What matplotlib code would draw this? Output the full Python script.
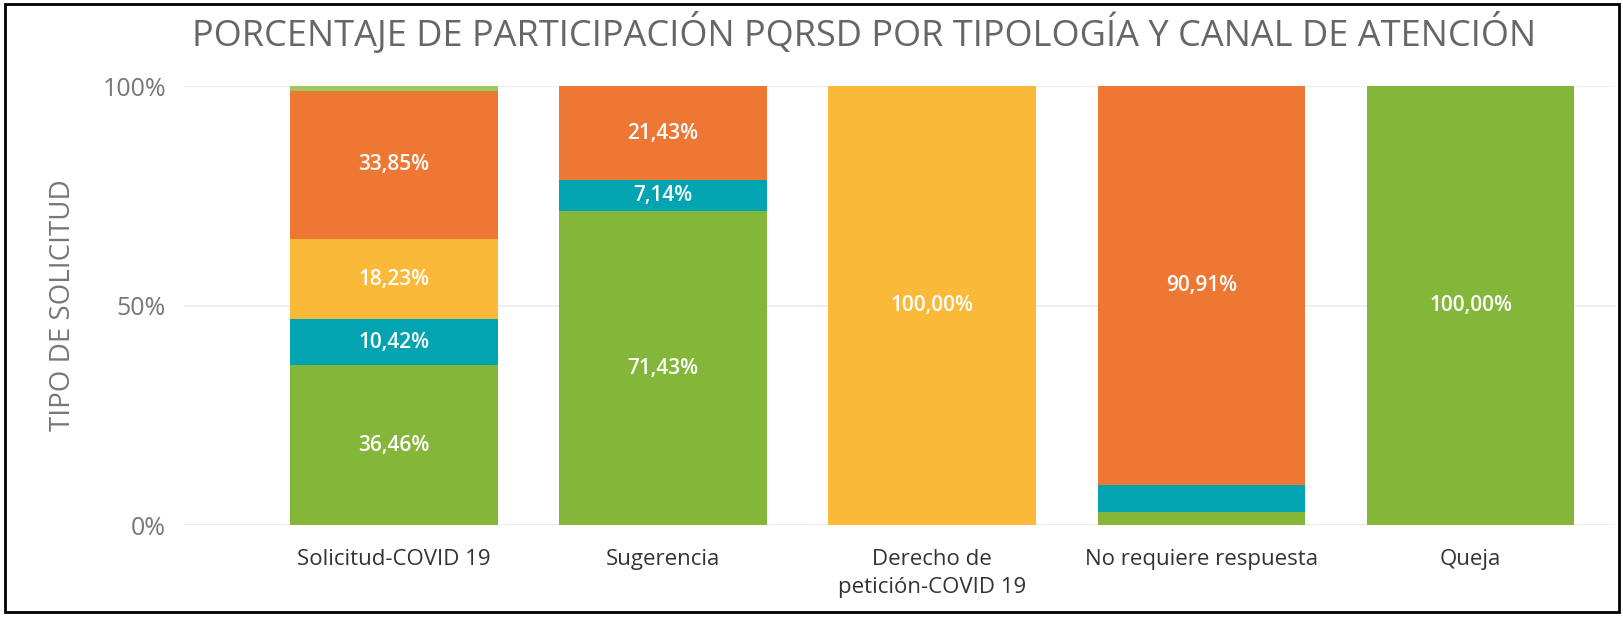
import numpy as np
import matplotlib
matplotlib.use("Agg")
import matplotlib.pyplot as plt
from matplotlib.patches import Rectangle

plt.rcParams['font.family'] = ['Open Sans', 'DejaVu Sans']

# data
categorias = ["Solicitud-COVID 19", "Sugerencia", "Derecho de\npetición-COVID 19",
              "No requiere respuesta", "Queja"]
canal_verde = [36.46, 71.43, 0.0, 3.03, 100.0]
canal_turquesa = [10.42, 7.14, 0.0, 6.06, 0.0]
canal_amarillo = [18.23, 0.0, 100.0, 0.0, 0.0]
canal_naranja = [33.85, 21.43, 0.0, 90.91, 0.0]
canal_otro = [1.04, 0.0, 0.0, 0.0, 0.0]

series = [
    (canal_verde, "#84B63A"),
    (canal_turquesa, "#01A4B0"),
    (canal_amarillo, "#FBB93A"),
    (canal_naranja, "#EF7734"),
    (canal_otro, "#9CC860"),
]

fig = plt.figure(figsize=(16.24, 6.17), dpi=100)
ax = fig.add_axes([0.1133, 0.149, 0.8812, 0.7116])

x = np.arange(len(categorias))
bottom = np.zeros(len(categorias))
for vals, color in series:
    vals = np.array(vals)
    ax.bar(x, vals, width=0.771, bottom=bottom, color=color, zorder=2)
    for xi, v, b in zip(x, vals, bottom):
        if v >= 7:
            ax.text(xi, b + v / 2, ("%.2f%%" % v).replace(".", ","),
                    ha="center", va="center", color="white", fontsize=15,
                    fontweight="semibold", zorder=3)
    bottom += vals

ax.set_xlim(-0.78, 4.537)
ax.set_ylim(0, 100)
ax.set_yticks([0, 50, 100])
ax.set_yticklabels(["0%", "50%", "100%"], color="#777777", fontsize=18)
ax.set_xticks(x)
ax.set_xticklabels(categorias, color="#333333", fontsize=16, linespacing=1.45)
ax.tick_params(axis="both", length=0)
ax.tick_params(axis="y", pad=13)
ax.tick_params(axis="x", pad=17)
ax.yaxis.grid(True, color="#EBEBEB", linewidth=1.2, zorder=0)
ax.set_axisbelow(True)
for s in ax.spines.values():
    s.set_visible(False)

ax.set_ylabel("TIPO DE SOLICITUD", color="#777777", fontsize=20, labelpad=18)

fig.text(0.532, 0.945, "PORCENTAJE DE PARTICIPACIÓN PQRSD POR TIPOLOGÍA Y CANAL DE ATENCIÓN",
         ha="center", va="center", color="#666666", fontsize=26)

fig.patches.append(Rectangle((0.003, 0.008), 0.994, 0.985, transform=fig.transFigure,
                             fill=False, edgecolor="black", linewidth=2))

fig.savefig("out.png", dpi=100)
